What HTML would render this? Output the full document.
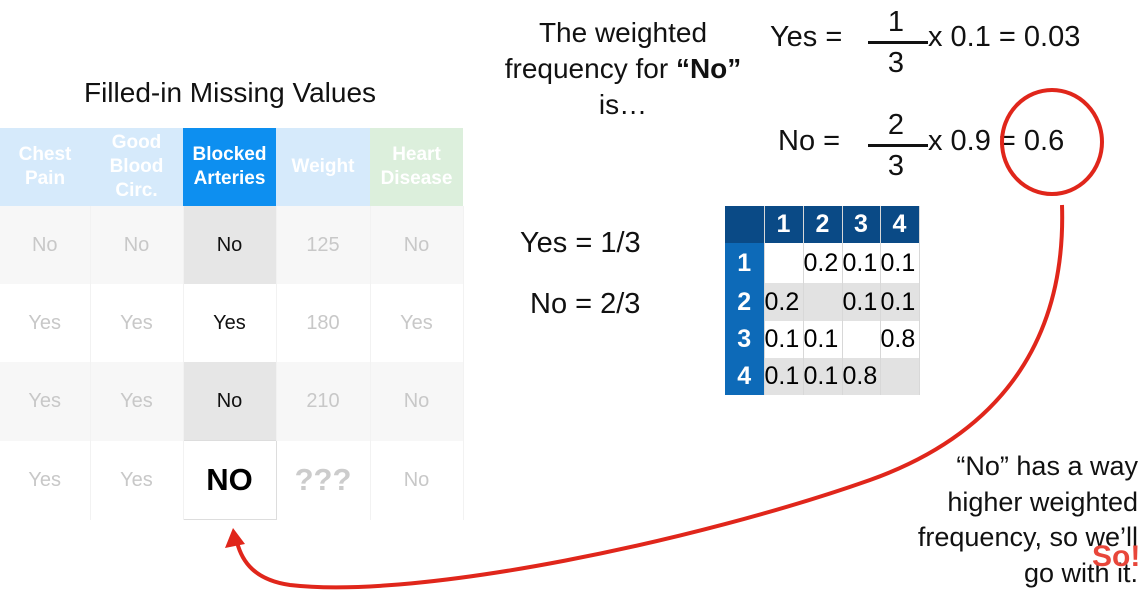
<!DOCTYPE html>
<html><head><meta charset="utf-8"><style>
body{margin:0;width:1139px;height:591px;background:#fff;overflow:hidden;font-family:"Liberation Sans",sans-serif;position:relative}
.a{position:absolute}
.t{font-size:29px;color:#111;text-align:center;white-space:nowrap}
table{border-collapse:collapse;table-layout:fixed}
#lt td{height:78px;text-align:center;font-size:20px;color:#c8c8c8;padding:0;border-right:1px solid #f2f2f2}
#lt th{height:78px;font-size:19px;font-weight:bold;color:#fff;padding:0;line-height:24px}
#mt td{font-size:25px;padding:0;text-align:left;border-right:1px solid #d8d8d8;overflow:hidden;white-space:nowrap}
</style></head><body>
<div class="a t" style="left:30px;top:77px;width:400px;font-size:28px">Filled-in Missing Values</div>
<table id="lt" class="a" style="left:0;top:128px;width:463px">
<colgroup><col style="width:90px"><col style="width:93px"><col style="width:93px"><col style="width:94px"><col style="width:93px"></colgroup>
<tr style="background:#d6eafb">
<th>Chest<br>Pain</th>
<th>Good<br>Blood<br>Circ.</th>
<th style="background:#0d8ff0">Blocked<br>Arteries</th>
<th>Weight</th>
<th style="background:#dcefdc">Heart<br>Disease</th></tr>
<tr style="background:#f7f7f7"><td>No</td><td>No</td><td style="background:#e6e6e6;color:#111">No</td><td>125</td><td>No</td></tr>
<tr><td>Yes</td><td>Yes</td><td style="color:#111">Yes</td><td>180</td><td>Yes</td></tr>
<tr style="background:#f7f7f7"><td>Yes</td><td>Yes</td><td style="background:#e6e6e6;color:#111">No</td><td>210</td><td>No</td></tr>
<tr><td>Yes</td><td>Yes</td><td style="color:#000;font-size:31px;font-weight:bold;border:1px solid #ddd">NO</td><td style="font-size:31px;font-weight:bold;color:#ccc">???</td><td>No</td></tr>
</table>
<div class="a t" style="left:473px;top:15px;width:300px;line-height:36px;font-size:28px">The weighted<br>frequency for <b>“No”</b><br>is…</div>
<div class="a t" style="left:520px;top:227px">Yes = 1/3</div>
<div class="a t" style="left:530px;top:288px">No = 2/3</div>
<div class="a t" style="left:770px;top:21px">Yes =</div>
<div class="a t" style="left:886px;top:6px;width:20px">1</div>
<div class="a" style="left:868px;top:41px;width:60px;height:3px;background:#111"></div>
<div class="a t" style="left:886px;top:47px;width:20px">3</div>
<div class="a t" style="left:928px;top:21px">x 0.1 = 0.03</div>
<div class="a t" style="left:778px;top:125px">No =</div>
<div class="a t" style="left:886px;top:109px;width:20px">2</div>
<div class="a" style="left:868px;top:144px;width:60px;height:3px;background:#111"></div>
<div class="a t" style="left:886px;top:150px;width:20px">3</div>
<div class="a t" style="left:928px;top:125px">x 0.9 = 0.6</div>
<table id="mt" class="a" style="left:725px;top:206px;width:194px">
<colgroup><col style="width:39px"><col style="width:39px"><col style="width:39px"><col style="width:38px"><col style="width:39px"></colgroup>
<tr style="background:#0a4a86;color:#fff;font-weight:bold;height:37px"><td></td><td style="text-align:center">1</td><td style="text-align:center">2</td><td style="text-align:center">3</td><td style="text-align:center">4</td></tr>
<tr style="height:40px"><td style="background:#0d6ab8;color:#fff;font-weight:bold;text-align:center">1</td><td></td><td>0.2</td><td>0.1</td><td>0.1</td></tr>
<tr style="height:38px;background:#e2e2e2"><td style="background:#0d6ab8;color:#fff;font-weight:bold;text-align:center">2</td><td>0.2</td><td></td><td>0.1</td><td>0.1</td></tr>
<tr style="height:37px"><td style="background:#0d6ab8;color:#fff;font-weight:bold;text-align:center">3</td><td>0.1</td><td>0.1</td><td></td><td>0.8</td></tr>
<tr style="height:37px;background:#e2e2e2"><td style="background:#0d6ab8;color:#fff;font-weight:bold;text-align:center">4</td><td>0.1</td><td>0.1</td><td>0.8</td><td></td></tr>
</table>
<div class="a t" style="right:1px;top:449px;text-align:right;line-height:35.5px;font-size:27px">“No” has a way<br>higher weighted<br>frequency, so we’ll<br>go with it.</div>
<svg class="a" style="left:0;top:0" width="1139" height="591">
<ellipse cx="1052" cy="142" rx="50" ry="52" fill="none" stroke="#e0261b" stroke-width="4"/>
<path d="M1062,205 C1066,330 1010,430 870,480 C700,540 420,600 290,585 C255,580 242,562 237,542" fill="none" stroke="#e0261b" stroke-width="4"/>
<polygon points="233,528 225,548 245,544" fill="#e0261b"/>
<text x="1092" y="566" font-family="Liberation Sans" font-weight="bold" font-size="30" fill="#e8463a">So!</text>
</svg>
</body></html>
